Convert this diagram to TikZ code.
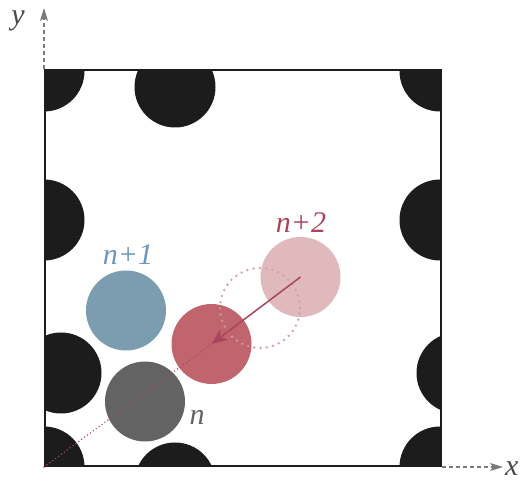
\documentclass[tikz,border=0pt]{standalone}
\usepackage{fontspec}
\setmainfont{Liberation Serif}
\usetikzlibrary{arrows.meta,calc}
\definecolor{ink}{HTML}{1C1C1C}
\definecolor{axisgray}{HTML}{7A7A7A}
\definecolor{stone}{HTML}{636363}
\definecolor{steel}{HTML}{7B9DAF}
\definecolor{steellbl}{HTML}{6A95BE}
\definecolor{rose}{HTML}{C0646D}
\definecolor{blush}{HTML}{E0B9BD}
\definecolor{wine}{HTML}{A8445E}
\tikzset{
  % periodiske billeder af partiklerne (sorte, klippes af boksen)
  pimg/.style={circle, fill=ink, minimum size=81pt, inner sep=0pt},
  % de markerede partikler n, n+1, n+2
  part/.style={circle, minimum size=80pt, inner sep=0pt},
  ghost/.style={circle, minimum size=80pt, inner sep=0pt,
    draw=blush!75!wine, line width=2.6pt, line cap=round,
    dash pattern=on 0pt off 6.3pt},
  frame/.style={draw=ink, line width=1.8pt, minimum size=396pt,
    inner sep=0pt, anchor=south west},
  axis/.style={draw=axisgray, line width=1.2pt, dash pattern=on 4pt off 3pt,
    -{Stealth[length=13pt,width=8pt,inset=3pt]}},
  trail/.style={draw=wine!85!rose, line width=1.6pt, line cap=round,
    dash pattern=on 0pt off 3.6pt},
  move/.style={draw=wine, line width=1.5pt,
    -{Stealth[length=16pt,width=13pt,inset=5pt]}},
  lbl/.style={font=\fontsize{30}{32}\selectfont\itshape, inner sep=0pt},
}
\newcommand{\pimage}[2]{%
  \node[pimg] (#1) at (#2) {};}

\begin{document}
\begin{tikzpicture}[x=1pt,y=1pt]
\useasboundingbox (-44,-14) rectangle (476,467);

% ----- periodiske billeder -----
\begin{scope}
\clip (0,0) rectangle (396,396);
\pimage{c1}{0,0}
\pimage{c2}{396,0}
\pimage{c3}{0,396}
\pimage{c4}{396,396}
\pimage{top}{131,380}
\pimage{bot}{131,-16}
\pimage{midl}{0,247}
\pimage{midr}{396,247}
\pimage{lowl}{17,94}
\pimage{lowr}{413,94}
\end{scope}

% ----- partikler -----
\node[part, fill=stone] (pn) at (101,65.5) {};
\node[part, fill=steel] (pa) at (82,156.5) {};
\node[part, fill=rose] (pb) at (167.5,123) {};
\node[part, fill=blush] (pc) at (256.5,190) {};
\node[ghost] (pg) at (216,159) {};

% ----- boks og akser -----
\node[frame] (box) at (0,0) {};
\coordinate (xtip) at (459,0);
\coordinate (ytip) at (0,459);
\draw[axis] (box.south east) -- (xtip);
\draw[axis] (box.north west) -- (ytip);
\node[lbl, text=ink!80, anchor=west] (xl) at ($(xtip)+(2,-2)$) {x};
\node[lbl, text=ink!80] (yl) at (-26,446) {y};

% ----- forskydning -----
\draw[trail] (box.south west) -- (pb.center);
\draw[move] (pc.center) -- (pb.center);

% ----- navne -----
\node[lbl, text=steellbl] (la) at (84,212) {n+1};
\node[lbl, text=wine] (lc) at (257,244) {n+2};
\node[lbl, text=stone] (ln) at (153,50) {n};

\end{tikzpicture}
\end{document}
